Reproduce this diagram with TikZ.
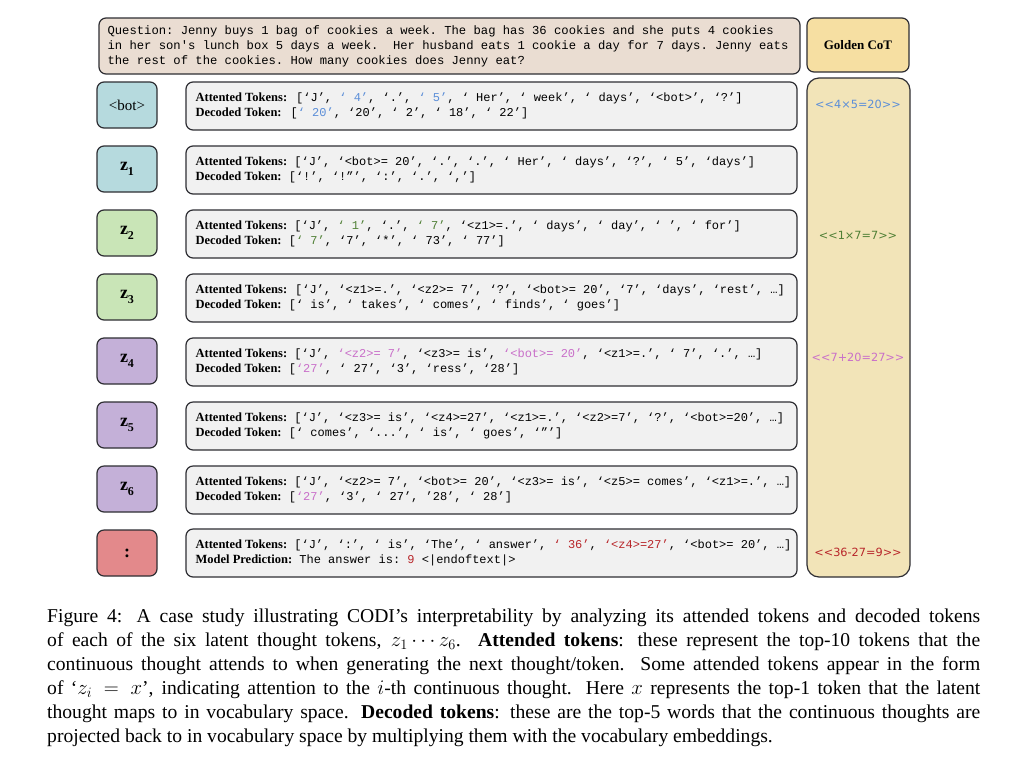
\documentclass[tikz,border=0pt]{standalone}
\usepackage{fontspec}
\setmainfont{Liberation Serif}
\setmonofont{Liberation Mono}
\newfontfamily\gsans{DejaVu Sans}
\definecolor{edge}{HTML}{2E2E33}
\definecolor{qfill}{HTML}{EADDD2}
\definecolor{ghead}{HTML}{F6DFA2}
\definecolor{gcol}{HTML}{F2E4B8}
\definecolor{cteal}{HTML}{B6DADE}
\definecolor{cgreen}{HTML}{C9E5B7}
\definecolor{clav}{HTML}{C4B0D8}
\definecolor{cred}{HTML}{E3898B}
\definecolor{rowgray}{HTML}{F1F1F1}
\definecolor{tblue}{HTML}{5B8ED8}
\definecolor{tgreen}{HTML}{4F7F35}
\definecolor{tpink}{HTML}{C96FC9}
\definecolor{tred}{HTML}{B8262A}
\newcommand\cb[1]{\textcolor{tblue}{#1}}
\newcommand\cg[1]{\textcolor{tgreen}{#1}}
\newcommand\cp[1]{\textcolor{tpink}{#1}}
\newcommand\crd[1]{\textcolor{tred}{#1}}
\newcommand\lb[1]{{\rmfamily\bfseries\fontsize{12.5}{15}\selectfont #1}}
\tikzset{
  box/.style={draw=edge, line width=1.2pt, rounded corners=7pt},
  lab/.style={box, minimum width=60pt, minimum height=46pt, inner sep=0pt, font=\fontsize{18}{20}\selectfont\bfseries},
  rowbox/.style={box, fill=rowgray, minimum width=611pt, minimum height=48pt, inner sep=0pt},
  rowtxt/.style={anchor=west, align=left, inner sep=0pt, font=\fontsize{12}{15}\selectfont\ttfamily},
  gold/.style={font=\gsans\fontsize{11.3}{13}\selectfont, inner sep=0pt},
}
\newcommand\zl[1]{z\raisebox{-0.25em}{\fontsize{12}{12}\selectfont #1}}
\begin{document}
\begin{tikzpicture}[x=1pt,y=-1pt]
\useasboundingbox[fill=white] (0,0) rectangle (1024,764);
% question
\node[box, fill=qfill, minimum width=701pt, minimum height=56pt, inner sep=0pt] (q) at (449.5,46) {};
\node[anchor=west, inner sep=0pt, align=left, font=\fontsize{12.2}{15}\selectfont\ttfamily] (qt) at ([xshift=9pt]q.west)
{Question: Jenny buys 1 bag of cookies a week. The bag has 36 cookies and she puts 4 cookies\\
in her son's lunch box 5 days a week.\ \ Her husband eats 1 cookie a day for 7 days. Jenny eats\\
the rest of the cookies. How many cookies does Jenny eat?};
% golden
\node[box, fill=ghead, minimum width=102pt, minimum height=54pt, font=\fontsize{13}{15}\selectfont\bfseries] (gh) at (858,45) {Golden CoT};
\node[box, fill=gcol, minimum width=103pt, minimum height=499pt, rounded corners=12pt] (gc) at (858.5,327.5) {};
\node[gold, text=tblue] (g1) at (858,104) {<<4×5=20>>};
\node[gold, text=tgreen] (g2) at (858,235) {<<1×7=7>>};
\node[gold, text=tpink] (g3) at (858,357) {<<7+20=27>>};
\node[gold, text=tred] (g4) at (858,552) {<<36-27=9>>};
% labels
\node[lab, fill=cteal, font=\fontsize{15}{18}\selectfont] (L0) at (127,105) {<bot>};
\node[lab, fill=cteal] (L1) at (127,169) {\zl{1}};
\node[lab, fill=cgreen] (L2) at (127,233) {\zl{2}};
\node[lab, fill=cgreen] (L3) at (127,297) {\zl{3}};
\node[lab, fill=clav] (L4) at (127,361) {\zl{4}};
\node[lab, fill=clav] (L5) at (127,425) {\zl{5}};
\node[lab, fill=clav] (L6) at (127,489) {\zl{6}};
\node[lab, fill=cred] (L7) at (127,553) {:};
% rows
\foreach \i/\y in {0/106,1/170,2/234,3/298,4/362,5/426,6/490,7/553}{
  \node[rowbox] (R\i) at (491.5,\y) {};
}
\node[rowtxt] (T0) at ([xshift=10pt]R0.west) {\lb{Attented Tokens:}\hspace{9pt}[‘J’, \cb{‘ 4’}, ‘.’, \cb{‘ 5’}, ‘ Her’, ‘ week’, ‘ days’, ‘<bot>’, ‘?’]\\
\lb{Decoded Token:}\hspace{9pt}[\cb{‘ 20’}, ‘20’, ‘ 2’, ‘ 18’, ‘ 22’]};
\node[rowtxt] (T1) at ([xshift=10pt]R1.west) {\lb{Attented Tokens:}~[‘J’, ‘<bot>= 20’, ‘.’, ‘.’, ‘ Her’, ‘ days’, ‘?’, ‘ 5’, ‘days’]\\
\lb{Decoded Token:}~[‘!’, ‘!”’, ‘:’, ‘.’, ‘,’]};
\node[rowtxt] (T2) at ([xshift=10pt]R2.west) {\lb{Attented Tokens:}~[‘J’, \cg{‘ 1’}, ‘.’, \cg{‘ 7’}, ‘<z1>=.’, ‘ days’, ‘ day’, ‘ ’, ‘ for’]\\
\lb{Decoded Token:}~[\cg{‘ 7’}, ‘7’, ‘*’, ‘ 73’, ‘ 77’]};
\node[rowtxt] (T3) at ([xshift=10pt]R3.west) {\lb{Attented Tokens:}\hspace{8pt}[‘J’, ‘<z1>=.’, ‘<z2>= 7’, ‘?’, ‘<bot>= 20’, ‘7’, ‘days’, ‘rest’, …]\\
\lb{Decoded Token:}~[‘ is’, ‘ takes’, ‘ comes’, ‘ finds’, ‘ goes’]};
\node[rowtxt] (T4) at ([xshift=10pt]R4.west) {\lb{Attented Tokens:}~[‘J’, \cp{‘<z2>= 7’}, ‘<z3>= is’, \cp{‘<bot>= 20’}, ‘<z1>=.’, ‘ 7’, ‘.’, …]\\
\lb{Decoded Token:}~[\cp{‘27’}, ‘ 27’, ‘3’, ‘ress’, ‘28’]};
\node[rowtxt] (T5) at ([xshift=10pt]R5.west) {\lb{Attented Tokens:}~[‘J’, ‘<z3>= is’, ‘<z4>=27’, ‘<z1>=.’, ‘<z2>=7’, ‘?’, ‘<bot>=20’, …]\\
\lb{Decoded Token:}~[‘ comes’, ‘...’, ‘ is’, ‘ goes’, ‘”’]};
\node[rowtxt] (T6) at ([xshift=10pt]R6.west) {\lb{Attented Tokens:}~[‘J’, ‘<z2>= 7’, ‘<bot>= 20’, ‘<z3>= is’, ‘<z5>= comes’, ‘<z1>=.’, …]\\
\lb{Decoded Token:}~[\cp{‘27’}, ‘3’, ‘ 27’, ’28’, ‘ 28’]};
\node[rowtxt] (T7) at ([xshift=10pt]R7.west) {\lb{Attented Tokens:}~[‘J’, ‘:’, ‘ is’, ‘The’, ‘ answer’, \crd{‘ 36’}, \crd{‘<z4>=27’}, ‘<bot>= 20’, …]\\
\lb{Model Prediction:}~The answer is: \crd{9} <|endoftext|>};
% caption
\node[anchor=north west, inner sep=0pt, text width=933pt, align=justify, font=\fontsize{19.6}{24}\selectfont] (cap) at (47,609)
{Figure 4: A case study illustrating CODI’s interpretability by analyzing its attended tokens and decoded tokens\linebreak
of each of the six latent thought tokens, $z_1\cdots z_6$. \textbf{Attended tokens}: these represent the top-10 tokens that the\linebreak
continuous thought attends to when generating the next thought/token. Some attended tokens appear in the form\linebreak
of ‘$z_i=x$’, indicating attention to the $i$-th continuous thought. Here $x$ represents the top-1 token that the latent\linebreak
thought maps to in vocabulary space. \textbf{Decoded tokens}: these are the top-5 words that the continuous thoughts are\linebreak
projected back to in vocabulary space by multiplying them with the vocabulary embeddings.};
\end{tikzpicture}
\end{document}
